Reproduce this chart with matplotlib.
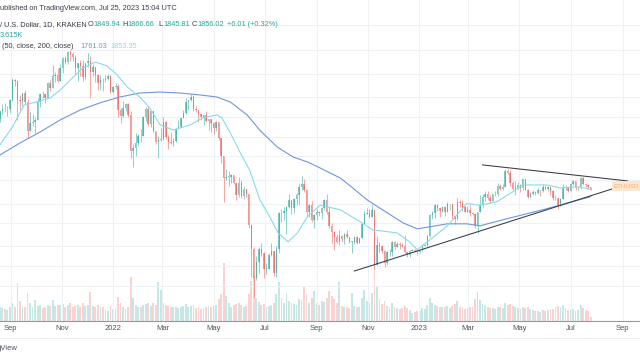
import matplotlib
matplotlib.use("Agg")
import matplotlib.pyplot as plt
import matplotlib.dates as mdates
import numpy as np
import pandas as pd

# ---------------------------------------------------------------------------
# Data (ETH/USD, 3-day candles, log price scale)
# ---------------------------------------------------------------------------
START = "2021-08-19"
FIRST_OPEN = 3020

close = [
    3180, 3240, 3230, 3240, 3430, 3940, 3930, 3430, 3410, 3610,
    3400, 2770, 2930, 2950, 3000, 3390, 3590, 3580, 3500, 3870,
    3740, 4050, 4080, 3930, 4300, 4600, 4480, 4810, 4720, 4640,
    4290, 4440, 4340, 4040, 4440, 4520, 4190, 4310, 4080, 3860,
    3960, 3940, 3980, 4060, 3630, 3770, 3790, 3200, 3080, 3250,
    3350, 3100, 2410, 2460, 2550, 2690, 2680, 3060, 3240, 2920,
    3180, 2780, 2570, 2600, 2630, 2950, 2670, 2570, 2560, 2590,
    2810, 2860, 3030, 3140, 3400, 3450, 3520, 3230, 3210, 3120,
    3060, 3100, 2980, 3010, 2940, 2830, 2950, 2640, 2340, 2000,
    2020, 2020, 2050, 1940, 1780, 1940, 1770, 1860, 1790, 1450,
    1230, 1000, 1120, 1230, 1190, 1070, 1070, 1180, 1210, 1040,
    1230, 1570, 1570, 1600, 1640, 1720, 1630, 1730, 1780, 1880,
    1930, 1840, 1580, 1660, 1500, 1550, 1580, 1570, 1630, 1720,
    1580, 1440, 1380, 1330, 1290, 1340, 1310, 1360, 1330, 1290,
    1290, 1330, 1280, 1320, 1460, 1560, 1570, 1530, 1610, 1100,
    1260, 1250, 1210, 1110, 1200, 1200, 1290, 1240, 1270, 1265,
    1250, 1200, 1180, 1210, 1220, 1210, 1200, 1215, 1250, 1265,
    1340, 1550, 1570, 1660, 1630, 1600, 1640, 1590, 1670, 1670,
    1540, 1510, 1700, 1690, 1640, 1590, 1610, 1570, 1560, 1440,
    1580, 1660, 1760, 1800, 1750, 1710, 1790, 1790, 1900, 1860,
    1890, 2100, 2080, 1940, 1860, 1870, 1910, 1870, 1990, 1850,
    1760, 1800, 1820, 1810, 1850, 1830, 1890, 1860, 1890, 1830,
    1750, 1740, 1660, 1730, 1870, 1870, 1830, 1920, 1960, 1880,
    1880, 2000, 1920, 1910, 1890, 1856,
]
high = [
    3190, 3340, 3370, 3290, 3470, 4020, 3990, 3960, 3550, 3620,
    3680, 3460, 3160, 3130, 3060, 3490, 3620, 3670, 3600, 3890,
    3950, 4370, 4170, 4290, 4400, 4620, 4660, 4830, 4870, 4810,
    4700, 4460, 4550, 4550, 4450, 4780, 4650, 4410, 4330, 4110,
    4080, 4000, 4090, 4130, 4100, 3780, 3880, 3840, 3250, 3410,
    3370, 3370, 3180, 2530, 2730, 2710, 2820, 3080, 3280, 3280,
    3190, 3180, 2770, 2680, 2840, 3050, 2970, 2700, 2760, 2650,
    2840, 2990, 3040, 3200, 3480, 3450, 3580, 3550, 3290, 3180,
    3120, 3110, 3180, 3010, 2990, 2950, 2970, 2950, 2530, 2340,
    2140, 2110, 2060, 2050, 1820, 2020, 1980, 1900, 1820, 1790,
    1460, 1240, 1170, 1240, 1280, 1200, 1110, 1190, 1280, 1220,
    1250, 1590, 1620, 1640, 1650, 1790, 1720, 1740, 1810, 1940,
    2030, 1990, 1860, 1670, 1710, 1560, 1620, 1600, 1640, 1730,
    1790, 1650, 1470, 1390, 1360, 1400, 1350, 1370, 1400, 1330,
    1300, 1340, 1340, 1320, 1470, 1600, 1630, 1620, 1670, 1610,
    1340, 1290, 1260, 1220, 1210, 1230, 1300, 1300, 1290, 1290,
    1280, 1350, 1200, 1220, 1230, 1230, 1210, 1220, 1270, 1270,
    1350, 1560, 1600, 1670, 1680, 1640, 1650, 1650, 1700, 1680,
    1680, 1530, 1740, 1720, 1720, 1650, 1650, 1670, 1580, 1570,
    1590, 1780, 1790, 1830, 1830, 1780, 1800, 1830, 1940, 1920,
    1930, 2130, 2140, 2120, 1960, 1960, 1950, 1920, 2010, 1990,
    1860, 1820, 1850, 1830, 1870, 1850, 1930, 1910, 1900, 1890,
    1850, 1780, 1740, 1740, 1920, 1910, 1880, 1940, 1980, 1960,
    1900, 2020, 2020, 1940, 1920, 1890,
]
low = [
    2960, 3120, 3170, 3080, 3150, 3420, 3800, 3000, 3220, 3300,
    3350, 2650, 2770, 2880, 2730, 2990, 3270, 3480, 3380, 3490,
    3670, 3730, 3900, 3900, 3920, 4150, 4420, 4430, 4500, 4510,
    4120, 3920, 4050, 3920, 3980, 4310, 3500, 4060, 3900, 3700,
    3690, 3650, 3900, 3950, 3610, 3600, 3710, 3060, 2940, 3060,
    3190, 3050, 2300, 2160, 2330, 2500, 2580, 2680, 2970, 2880,
    2850, 2760, 2530, 2300, 2590, 2610, 2620, 2450, 2540, 2500,
    2580, 2820, 2870, 3050, 3120, 3210, 3420, 3180, 3160, 2950,
    2990, 2890, 2950, 2790, 2760, 2710, 2770, 2610, 2220, 1700,
    1980, 1900, 1940, 1920, 1720, 1760, 1740, 1730, 1760, 1420,
    1010, 880, 990, 1040, 1170, 1000, 1030, 1070, 1170, 1020,
    1010, 1190, 1480, 1500, 1360, 1630, 1560, 1570, 1660, 1680,
    1840, 1820, 1530, 1530, 1480, 1420, 1500, 1540, 1510, 1610,
    1560, 1420, 1280, 1220, 1280, 1260, 1290, 1270, 1320, 1280,
    1190, 1270, 1270, 1280, 1340, 1480, 1560, 1520, 1590, 1070,
    1120, 1200, 1190, 1080, 1100, 1170, 1170, 1230, 1240, 1230,
    1240, 1190, 1160, 1160, 1210, 1200, 1180, 1190, 1210, 1250,
    1250, 1330, 1510, 1520, 1600, 1530, 1580, 1540, 1590, 1610,
    1510, 1460, 1500, 1640, 1600, 1580, 1590, 1540, 1550, 1420,
    1370, 1580, 1640, 1710, 1720, 1690, 1720, 1770, 1770, 1850,
    1840, 1880, 2060, 1900, 1840, 1780, 1860, 1820, 1850, 1840,
    1740, 1770, 1780, 1780, 1790, 1770, 1820, 1850, 1830, 1780,
    1720, 1720, 1620, 1650, 1730, 1850, 1820, 1830, 1910, 1840,
    1850, 1860, 1910, 1880, 1860, 1840,
]
volume_k = [
    30, 28, 26, 24, 30, 40, 32, 84, 45, 30,
    32, 62, 40, 30, 47, 34, 35, 28, 30, 36,
    34, 47, 34, 36, 35, 38, 32, 36, 40, 30,
    34, 36, 30, 40, 33, 36, 64, 34, 32, 36,
    30, 32, 24, 22, 34, 26, 28, 53, 40, 32,
    26, 32, 98, 50, 36, 30, 32, 36, 38, 40,
    34, 40, 36, 87, 69, 40, 36, 34, 30, 30,
    30, 28, 30, 34, 38, 32, 34, 36, 28, 30,
    26, 28, 30, 34, 32, 34, 36, 48, 60, 129,
    56, 40, 30, 36, 38, 40, 36, 30, 34, 60,
    89, 100, 50, 42, 36, 38, 30, 34, 36, 40,
    60, 87, 50, 40, 62, 44, 40, 38, 36, 48,
    46, 78, 60, 40, 50, 66, 40, 36, 44, 42,
    50, 66, 56, 48, 40, 87, 34, 32, 30, 28,
    62, 34, 30, 32, 50, 69, 44, 40, 62, 133,
    78, 48, 38, 44, 34, 32, 40, 30, 28, 26,
    28, 34, 28, 24, 18, 20, 22, 22, 28, 26,
    36, 50, 40, 36, 34, 30, 32, 30, 34, 28,
    34, 38, 44, 30, 32, 26, 28, 30, 32, 48,
    64, 46, 38, 36, 30, 28, 28, 26, 32, 30,
    28, 40, 36, 38, 34, 30, 28, 26, 30, 28,
    32, 26, 24, 22, 22, 20, 24, 22, 24, 26,
    26, 30, 34, 30, 36, 28, 24, 24, 26, 22,
    24, 36, 28, 24, 22, 8,
]

# moving averages
ma50_dates = ["2021-08-19", "2021-09-03", "2021-09-17", "2021-10-01", "2021-10-18",
              "2021-10-30", "2021-11-11", "2021-11-26", "2021-12-11", "2021-12-25",
              "2022-01-06", "2022-01-18", "2022-02-02", "2022-02-14", "2022-02-26",
              "2022-03-14", "2022-04-03", "2022-04-18", "2022-05-05", "2022-05-11",
              "2022-05-21", "2022-06-02", "2022-06-13", "2022-06-25", "2022-07-07",
              "2022-07-17", "2022-07-29", "2022-08-09", "2022-08-21", "2022-09-05",
              "2022-09-29", "2022-10-23", "2022-11-07", "2022-12-06", "2022-12-21",
              "2022-12-30", "2023-01-14", "2023-02-04", "2023-02-19", "2023-02-27",
              "2023-03-15", "2023-04-04", "2023-04-23", "2023-05-05", "2023-06-03",
              "2023-06-18", "2023-07-12", "2023-07-25"]
ma50 = [2519, 2855, 3323, 3393, 3489,
        3686, 3953, 4293, 4473, 4355,
        4092, 3763, 3513, 3257, 2900,
        2796, 2895, 3040, 3104, 3040,
        2740, 2384, 2120, 1730, 1533,
        1371, 1288, 1371, 1533, 1660,
        1610, 1481, 1400, 1371, 1288,
        1220, 1306, 1440, 1590, 1680,
        1660, 1701, 1822, 1911, 1911,
        1873, 1885, 1853]

ma200_dates = ["2021-08-19", "2021-09-12", "2021-10-06", "2021-10-30", "2021-11-23",
               "2021-12-16", "2022-01-09", "2022-02-02", "2022-02-26", "2022-03-22",
               "2022-04-15", "2022-05-05", "2022-05-21", "2022-06-10", "2022-06-25",
               "2022-07-16", "2022-08-04", "2022-08-21", "2022-09-05", "2022-09-29",
               "2022-10-14", "2022-10-31", "2022-11-24", "2022-12-13", "2022-12-30",
               "2023-01-14", "2023-02-04", "2023-02-27", "2023-03-15", "2023-04-16",
               "2023-05-29", "2023-07-25"]
ma200 = [2351, 2555, 2757, 2997, 3212,
         3370, 3513, 3611, 3636, 3611,
         3563, 3513, 3393, 3104, 2796,
         2484, 2318, 2241, 2150, 2006,
         1873, 1725, 1577, 1470, 1410,
         1430, 1460, 1460, 1440, 1512,
         1610, 1761]

# hand-drawn trendlines (date, price)
upper_line = (["2023-03-18", "2023-09-07"], [2195, 1965])
lower_line = (["2022-10-16", "2023-09-07"], [1053, 1923])

month_ticks = ["2021-09-01", "2021-11-01", "2022-01-01", "2022-03-01", "2022-05-01",
               "2022-07-01", "2022-09-01", "2022-11-01", "2023-01-01", "2023-03-01",
               "2023-05-01", "2023-07-01", "2023-09-01"]
month_labels = ["Sep", "Nov", "2022", "Mar", "May", "Jul", "Sep", "Nov", "2023",
                "Mar", "May", "Jul", "Sep"]
grid_prices = [5780, 4860, 4120, 3510, 3050, 2665, 2336, 1978, 1675, 1469, 1252, 1090, 949]

# ---------------------------------------------------------------------------
# Style
# ---------------------------------------------------------------------------
UP     = "#26a69a"
DOWN   = "#ef5350"
GRID   = "#eef1f6"
TEXT   = "#3b3e48"
AXIS   = "#50535e"
MA50C  = "#86dbea"
MA200C = "#7196dc"
LINEC  = "#363a45"
FONT   = ["Liberation Sans", "DejaVu Sans"]

W, H = 640, 360
fig = plt.figure(figsize=(W / 100, H / 100), dpi=100, facecolor="white")
ax = fig.add_axes([0, 39 / H, 1, 321 / H])
axv = ax.twinx()

dates = pd.date_range(START, periods=len(close), freq="3D")
xd = mdates.date2num(dates)
c = np.array(close, float)
o = np.r_[FIRST_OPEN, c[:-1]]
hi = np.maximum(np.array(high, float), np.maximum(o, c))
lo = np.minimum(np.array(low, float), np.minimum(o, c))
up = c >= o
cols = np.where(up, UP, DOWN)

# volume pane (behind)
axv.bar(xd, volume_k, width=2.2, color=cols, alpha=0.26, linewidth=0)
axv.set_ylim(0, 713)
axv.axis("off")

# candles
ax.vlines(xd, lo, hi, colors=cols, linewidth=0.55, alpha=0.65)
body_lo = np.minimum(o, c)
body_hi = np.maximum(np.maximum(o, c), body_lo * 1.003)
ax.bar(xd, body_hi - body_lo, bottom=body_lo, width=1.7, color=cols,
       alpha=0.6, linewidth=0)

# moving averages
ax.plot(mdates.date2num(pd.to_datetime(ma200_dates)), ma200, color=MA200C, lw=0.8)
ax.plot(mdates.date2num(pd.to_datetime(ma50_dates)), ma50, color=MA50C, lw=0.8)

# trendlines
for d, p in (upper_line, lower_line):
    ax.plot(mdates.date2num(pd.to_datetime(d)), p, color=LINEC, lw=0.75)

ax.set_yscale("log")
ax.set_ylim(745, 6876)
jan22 = mdates.date2num(pd.Timestamp("2022-01-01"))
ax.set_xlim(jan22 - 113 / 0.838, jan22 + 527 / 0.838)

ax.set_yticks(grid_prices)
ax.yaxis.set_minor_locator(matplotlib.ticker.NullLocator())
ax.set_yticklabels([])
ax.tick_params(axis="y", length=0)
ax.set_xticks(mdates.date2num(pd.to_datetime(month_ticks)))
ax.set_xticklabels(month_labels, fontsize=5.5, color=AXIS, family=FONT)
ax.tick_params(axis="x", length=0, pad=3)
ax.grid(True, color=GRID, linewidth=0.8)
ax.set_axisbelow(True)
for name, sp in ax.spines.items():
    sp.set_visible(name == "bottom")
ax.spines["bottom"].set_color("#9598a1")
ax.spines["bottom"].set_linewidth(0.8)
ax.set_zorder(2)
axv.set_zorder(1)
ax.patch.set_visible(False)


def px(x, y):
    return x / W, 1 - y / H


# header
fig.text(*px(0, 9), "ublished on TradingView.com, Jul 25, 2023 15:04 UTC",
         fontsize=5.3, color=TEXT, va="center", family=FONT)
fig.text(*px(0, 25), "/ U.S. Dollar, 1D, KRAKEN", fontsize=5.3, color=TEXT,
         va="center", family=FONT)
for x0, letter, val in [(88, "O", "1849.94"), (122, "H", "1866.66"),
                        (158, "L", "1845.81"), (192, "C", "1856.02")]:
    fig.text(*px(x0, 25), letter, fontsize=5.3, color=TEXT, va="center", family=FONT)
    fig.text(*px(x0 + 5.5, 25), val, fontsize=5.3, color=UP, va="center", family=FONT)
fig.text(*px(227, 25), "+6.01 (+0.32%)", fontsize=5.3, color=UP, va="center", family=FONT)
fig.text(*px(0, 35.5), "3.615K", fontsize=5.3, color=UP, va="center", family=FONT)
fig.text(*px(2, 46), "(50, close, 200, close)", fontsize=5.3, color=TEXT,
         va="center", family=FONT)
fig.text(*px(80, 46), "1761.03", fontsize=5.3, color=MA200C, va="center", family=FONT)
fig.text(*px(110, 46), "1853.35", fontsize=5.3, color=MA50C, va="center", family=FONT)

# last price tag at the right edge
fig.text(*px(614, 186), "ETHUSD", fontsize=4.4, color="#f3b07a", va="center",
         family=FONT,
         bbox=dict(boxstyle="square,pad=0.4", fc="#fde6d0", ec="none"))

# footer
fig.add_artist(plt.Line2D([0, 1], [1 - 338 / H] * 2, color="#e6e8ee", lw=0.6))
fig.text(*px(-3, 349), "gView", fontsize=5.5, color=AXIS, va="center", family=FONT)

fig.savefig("out.png", dpi=100, facecolor="white")
